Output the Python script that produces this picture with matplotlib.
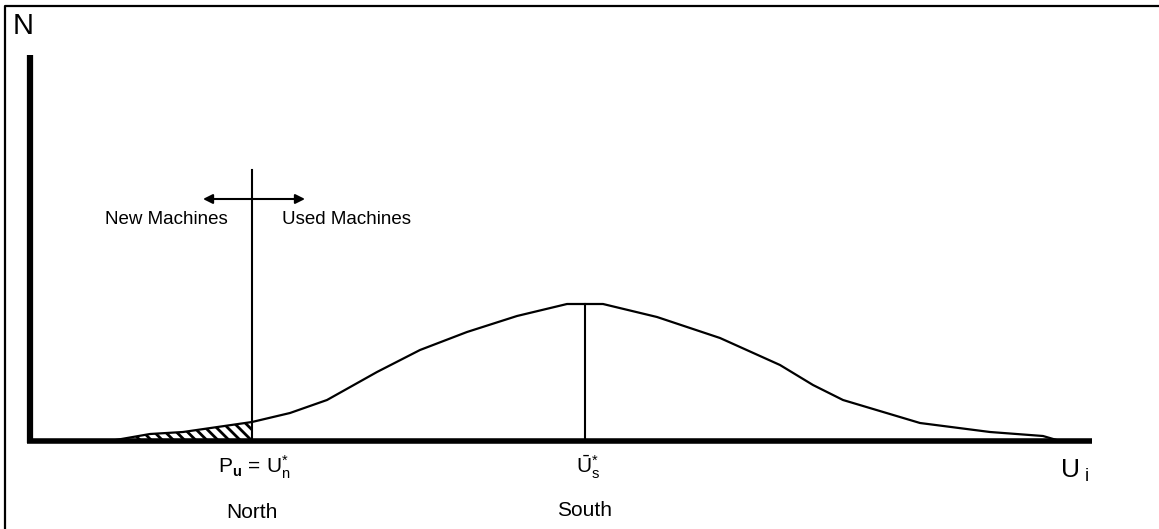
import numpy as np
import matplotlib.pyplot as plt

plt.rcParams['font.family'] = ['Liberation Sans', 'DejaVu Sans']
plt.rcParams['mathtext.fontset'] = 'custom'
plt.rcParams['mathtext.rm'] = 'Liberation Sans'
plt.rcParams['mathtext.it'] = 'Liberation Sans'
plt.rcParams['mathtext.bf'] = 'Liberation Sans:bold'
plt.rcParams['hatch.linewidth'] = 2.0

# distribution of machine vintages
u = [80, 120, 153, 222, 260, 297, 347, 390, 437, 487, 537, 573,
     627, 690, 750, 783, 813, 890, 960, 1013, 1030]
n = [0, 7, 9, 19, 28, 41, 69, 91, 109, 125, 137, 137,
     124, 103, 76, 56, 41, 18, 9, 5, 0]
u_north = 222      # P_u = U*_n
u_south = 555      # mean U*_s
n_peak = 137
cut_top = 271
arrow_y = 242
arrow_x = [173, 275]

fig = plt.figure(figsize=(11.59, 5.29), dpi=100)
ax = fig.add_axes([0, 0, 1, 1])
ax.set_xlim(-30, 1129)
ax.set_ylim(-88, 441)
ax.axis('off')

# frame (top and left only)
ax.plot([-25, -25, 1129], [-88, 435, 435], color='black', lw=1.6, clip_on=False)

# axes
ax.plot([-3, 1062], [0, 0], color='black', lw=4.0, solid_capstyle='butt')
ax.plot([0, 0], [-2, 386], color='black', lw=4.5, solid_capstyle='butt')

# curve
ax.plot(u, n, color='black', lw=1.6)

# hatched tail
uu = np.array(u)
nn = np.array(n)
m = uu <= u_north
ax.fill_between(uu[m], 0, nn[m], facecolor='white', edgecolor='black',
                hatch='\\\\\\', lw=0)

# vertical lines
ax.plot([u_north, u_north], [0, cut_top], color='black', lw=1.5)
ax.plot([u_south, u_south], [0, n_peak], color='black', lw=1.5)

# arrow
ax.annotate('', xy=(arrow_x[0], arrow_y), xytext=(arrow_x[1], arrow_y),
            arrowprops=dict(arrowstyle='<|-|>', color='black', lw=1.5,
                            mutation_scale=14, shrinkA=0, shrinkB=0))

ax.text(136, 221, 'New Machines', ha='center', va='center', fontsize=13.5)
ax.text(317, 221, 'Used Machines', ha='center', va='center', fontsize=13.5)

ax.text(-17, 415, 'N', ha='left', va='center', fontsize=21)
ax.text(1030, -30, r'$\mathregular{U}_{\mathregular{\ i}}$', ha='left', va='center', fontsize=19)

ax.text(u_north + 3, -26, r'$\mathregular{P}_{\mathbf{u}}\mathregular{\,=\,U^{*}_{n}}$',
        ha='center', va='center', fontsize=15)
ax.text(u_south + 3, -26, r'$\mathregular{\bar{U}^{*}_{s}}$',
        ha='center', va='center', fontsize=15)
ax.text(u_north, -71, 'North', ha='center', va='center', fontsize=15)
ax.text(u_south, -69, 'South', ha='center', va='center', fontsize=15)

fig.savefig('out.png', dpi=100)
